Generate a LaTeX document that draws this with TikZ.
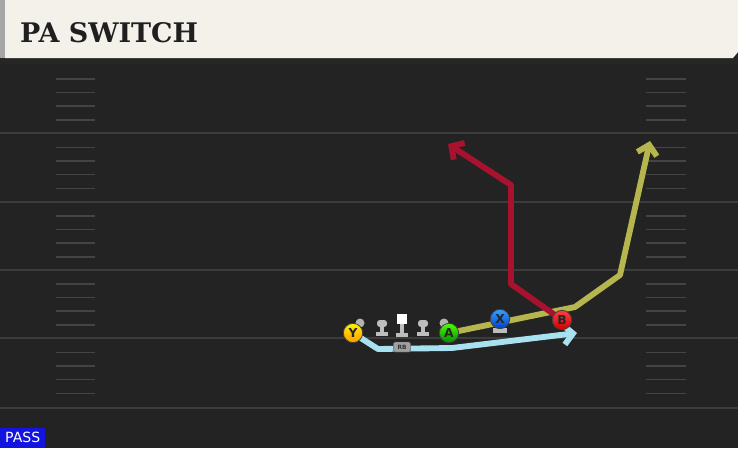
\documentclass[tikz,border=0pt]{standalone}
\usepackage{fontspec}
\setmainfont{DejaVu Serif}
\setsansfont{DejaVu Sans}
\usetikzlibrary{arrows.meta,positioning}

\definecolor{fieldbg}{HTML}{232323}
\definecolor{yard}{HTML}{3C3C3C}
\definecolor{hash}{HTML}{444444}
\definecolor{panel}{HTML}{F4F1EA}
\definecolor{redroute}{HTML}{A8122F}
\definecolor{oliveroute}{HTML}{B6B54E}
\definecolor{blueroute}{HTML}{A8E2F0}
\definecolor{passblue}{HTML}{1414E0}
\definecolor{linegray}{HTML}{BDBDBD}

\pgfdeclarelayer{field}
\pgfdeclarelayer{routes}
\pgfsetlayers{field,routes,main}

\tikzset{
  lineman/.pic={
    \fill[linegray] (-6,0) rectangle (6,-4);
    \fill[linegray] (-2,-4) rectangle (2,-10);
    \fill[linegray,rounded corners=2.5pt] (-5,-9) rectangle (5,-16);
  },
  centerman/.pic={
    \fill[linegray] (-6,0) rectangle (6,-4);
    \fill[linegray] (-2,-4) rectangle (2,-14);
    \fill[white] (-5,-13) rectangle (5,-23);
  }
}

\begin{document}
\begin{tikzpicture}
  [x=0.03cm,y=-0.03cm,
   player/.style={draw=black!75,line width=0.7pt,shape=circle,inner sep=0pt,minimum size=0.58cm,
     font=\sffamily\bfseries\fontsize{10.5}{10.5}\selectfont,text=black!85},
   route/.style={line width=5pt,line join=round,-{Straight Barb[length=8pt,width=17pt]}},
   yardline/.style={draw=yard,line width=2pt},
   hashmark/.style={draw=hash,line width=1.6pt}]

  \useasboundingbox (0,0) rectangle (738,448);

  \begin{pgfonlayer}{field}
    % field and header
    \fill[fieldbg] (0,0) rectangle (738,448);
    \fill[black!85] (0,58) rectangle (738,64);
    \fill[gray!70] (0,0) rectangle (5,58);
    \fill[panel] (5,0) -- (738,0) -- (738,52) -- (733,58) -- (5,58) -- cycle;
    \foreach \yl in {133,202,270,338,408}
      \draw[yardline] (0,\yl) -- (738,\yl);
    \foreach \yl in {65,133.5,202,270,338.5}
      \foreach \o in {14,27.5,41,55} {
        \draw[hashmark] (56,\yl+\o) -- (95,\yl+\o);
        \draw[hashmark] (646,\yl+\o) -- (686,\yl+\o);
      }
  \end{pgfonlayer}

  \node[anchor=base west,inner sep=0pt,font=\bfseries\fontsize{23}{23}\selectfont,text=black!88] (title) at (20,42) {PA SWITCH};
  \node[anchor=south west,fill=passblue,text=white,inner sep=0pt,minimum width=1.35cm,minimum height=0.6cm,
    font=\sffamily\fontsize{12}{12}\selectfont] (pass) at (0,448) {PASS};

  % offensive line
  \fill[gray!60] (360,323) circle (4.5);
  \fill[gray!60] (444,323) circle (4.5);
  \pic at (382,336) {lineman};
  \pic at (402,337) {centerman};
  \pic at (423,336) {lineman};
  \fill[linegray] (493,328) rectangle (507,333);

  % receivers
  \node[player,top color=yellow!90!orange,bottom color=orange!80!yellow] (y) at (353,333) {Y};
  \node[player,top color=green!60!lime,bottom color=green!55!black] (a) at (449,333) {A};
  \node[player,top color=blue!45!cyan!80,bottom color=blue!70!cyan!80!black] (x) at (500,319) {X};
  \node[player,top color=red!75!white,bottom color=red!80!black] (b) at (562,320) {B};

  \coordinate (y1) at (378,349);
  \coordinate (y2) at (452,348);
  \coordinate (y3) at (577,333);
  \coordinate (a1) at (575,307);
  \coordinate (a2) at (620,275);
  \coordinate (a3) at (650,141);
  \coordinate (b1) at (511,284);
  \coordinate (b2) at (511,185);
  \coordinate (b3) at (448,144);

  \begin{pgfonlayer}{routes}
    \draw[route,blueroute] (y.center) -- (y1) -- (y2) -- (y3);
    \draw[route,oliveroute] (a.center) -- (a1) -- (a2) -- (a3);
    \draw[route,redroute] (b.center) -- (b1) -- (b2) -- (b3);
  \end{pgfonlayer}

  \node[fill=gray!75,draw=black!60,line width=0.4pt,rounded corners=1.5pt,inner sep=1pt,minimum width=0.52cm,minimum height=0.3cm,
    font=\sffamily\bfseries\fontsize{5}{5}\selectfont,text=black!80] (rb) at (402,347) {RB};
\end{tikzpicture}
\end{document}
